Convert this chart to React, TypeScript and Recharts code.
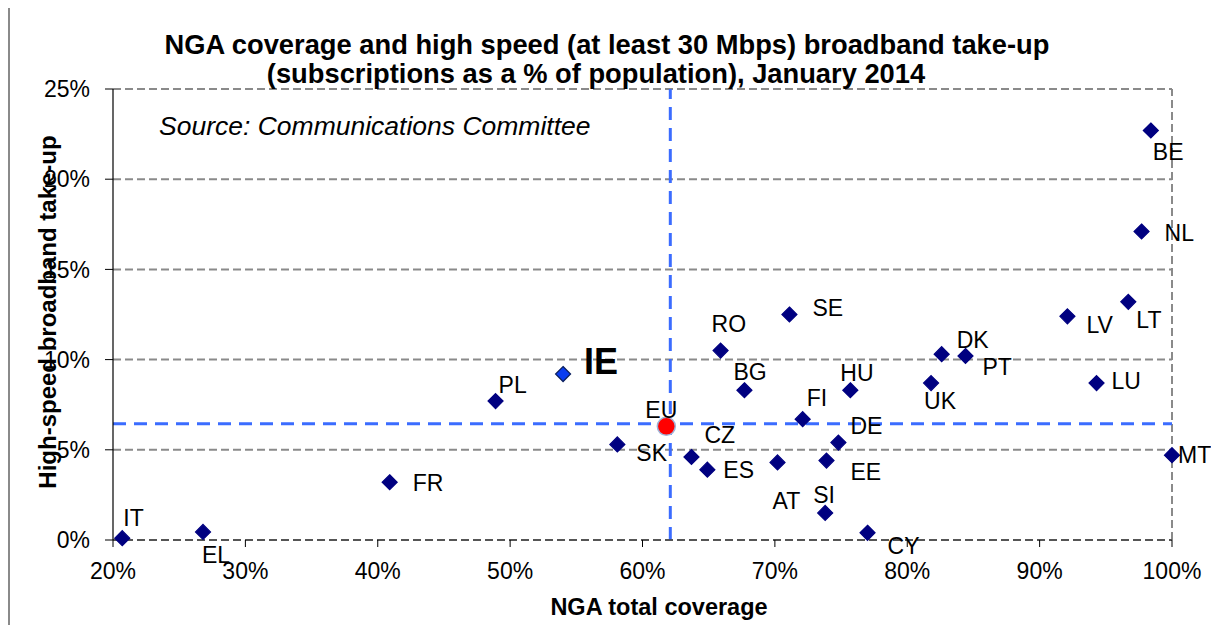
import React from 'react';
import { ScatterChart, Scatter, XAxis, YAxis, CartesianGrid, ReferenceLine } from 'recharts';

const FONT = '"Liberation Sans", Arial, Helvetica, sans-serif';

// ---- Data ----
const countries = ['IT', 'EL', 'FR', 'PL', 'SK', 'RO', 'BG', 'CZ', 'ES', 'AT', 'SE', 'FI', 'HU', 'DE', 'EE', 'SI', 'CY', 'UK', 'DK', 'PT', 'LV', 'LT', 'LU', 'MT', 'BE', 'NL'];
const coverage = [20.7, 26.8, 40.9, 48.9, 58.1, 65.9, 67.7, 63.7, 64.9, 70.2, 71.1, 72.1, 75.7, 74.8, 73.9, 73.8, 77.0, 81.8, 82.6, 84.4, 92.1, 96.7, 94.3, 100.0, 98.4, 97.7];
const takeup = [0.1, 0.45, 3.2, 7.7, 5.3, 10.5, 8.3, 4.6, 3.9, 4.3, 12.5, 6.7, 8.3, 5.4, 4.4, 1.5, 0.4, 8.7, 10.3, 10.2, 12.4, 13.2, 8.7, 4.7, 22.7, 17.1];

const ieCountry = ['IE'];
const ieCoverage = [54.0];
const ieTakeup = [9.2];

const euCountry = ['EU'];
const euCoverage = [61.8];
const euTakeup = [6.3];

const euAvgCoverage = 62.1;
const euAvgTakeup = 6.45;

const xTicks = [20, 30, 40, 50, 60, 70, 80, 90, 100];
const yTicks = [0, 5, 10, 15, 20, 25];

const titleLines = [
  'NGA coverage and high speed (at least 30 Mbps) broadband take-up',
  '(subscriptions as a % of population), January 2014',
];
const sourceText = 'Source: Communications Committee';
const xTitle = 'NGA total coverage';
const yTitle = 'High-speed broadband take-up';
const cutText = '(subscriptions as a % of population), January 2014';

// ---- Layout: label offsets (start x, cap-centre y) relative to each marker ----
const labelOffsets: Record<string, [number, number]> = {
  IT: [1, -20], EL: [-1, 23], FR: [23, 0], PL: [3, -16], SK: [19, 8], RO: [-9, -27],
  BG: [-11, -19], CZ: [13, -22], ES: [16, 0], AT: [-5, 38], SE: [23, -7], FI: [4, -21],
  HU: [-10, -18], DE: [12, -17], EE: [24, 11], SI: [-12, -18], CY: [20, 13], UK: [-7, 18],
  DK: [15, -14], PT: [17, 11], LV: [19, 8], LT: [8, 18], LU: [15, -2], MT: [6, 0],
  BE: [2, 21], NL: [23, 1], IE: [21, -13], EU: [-21, -17],
};

const mk = (names: string[], xs: number[], ys: number[]) =>
  names.map((name, i) => ({ name, x: xs[i], y: ys[i] }));

const mainData = mk(countries, coverage, takeup);
const ieData = mk(ieCountry, ieCoverage, ieTakeup);
const euData = mk(euCountry, euCoverage, euTakeup);

const LABEL_SIZE = 23;

const pointLabel = (name: string, cx: number, cy: number, size: number, bold: boolean) => {
  const off = labelOffsets[name] || [10, 0];
  return (
    <text
      x={cx + off[0]}
      y={cy + off[1] + size * 0.358}
      fontSize={size}
      fontFamily={FONT}
      fontWeight={bold ? 'bold' : 'normal'}
      fill="#000"
    >
      {name}
    </text>
  );
};

const diamondShape = (fill: string, stroke: string, labelSize: number, bold: boolean) => (props: any) => {
  const { cx, cy, payload } = props;
  if (cx == null || cy == null) return <g />;
  const h = 7.5;
  const pts = `${cx},${cy - h} ${cx + h},${cy} ${cx},${cy + h} ${cx - h},${cy}`;
  return (
    <g>
      <polygon points={pts} fill={fill} stroke={stroke} strokeWidth={1.2} />
      {pointLabel(payload.name, cx, cy, labelSize, bold)}
    </g>
  );
};

const circleShape = (props: any) => {
  const { cx, cy, payload } = props;
  if (cx == null || cy == null) return <g />;
  return (
    <g>
      <circle cx={cx} cy={cy} r={9} fill="#ff0000" stroke="#9fb4d8" strokeWidth={1.5} />
      {pointLabel(payload.name, cx, cy, LABEL_SIZE, false)}
    </g>
  );
};

export default function App() {
  return (
    <div style={{ position: 'relative', width: 1211, height: 617 }}>
      <ScatterChart width={1211} height={617} margin={{ top: 81, right: 47, bottom: 25, left: 0 }}>
        <CartesianGrid vertical={false} stroke="#8a8a8a" strokeWidth={2} strokeDasharray="8 4" />
        <XAxis
          type="number"
          dataKey="x"
          domain={[20, 100]}
          ticks={xTicks}
          tickFormatter={(v: number) => `${v}%`}
          height={60}
          tickSize={7}
          tickMargin={16}
          axisLine={{ stroke: '#444', strokeWidth: 1.5, strokeDasharray: '8 4' }}
          tickLine={{ stroke: '#000' }}
          tick={{ fontSize: 23, fill: '#000', fontFamily: FONT }}
        />
        <YAxis
          type="number"
          dataKey="y"
          domain={[0, 25]}
          ticks={yTicks}
          tickFormatter={(v: number) => `${v}%`}
          width={105}
          tickSize={8}
          tickMargin={15}
          axisLine={{ stroke: '#000', strokeWidth: 1.2 }}
          tickLine={{ stroke: '#000' }}
          tick={{ fontSize: 23, fill: '#000', fontFamily: FONT }}
        />
        <ReferenceLine x={100} stroke="#8a8a8a" strokeWidth={2} strokeDasharray="8 4" />
        <Scatter data={euData} isAnimationActive={false} shape={circleShape} />
        <Scatter data={mainData} isAnimationActive={false} shape={diamondShape('#000080', '#000080', LABEL_SIZE, false)} />
        <Scatter data={ieData} isAnimationActive={false} shape={diamondShape('#0a3df0', '#0b1f5c', 36, true)} />
        <ReferenceLine x={euAvgCoverage} stroke="#3b6cff" strokeWidth={3} strokeDasharray="13 8" />
        <ReferenceLine y={euAvgTakeup} stroke="#3b6cff" strokeWidth={3} strokeDasharray="13 8" />
      </ScatterChart>
      <svg
        width={1219}
        height={625}
        style={{ position: 'absolute', left: -8, top: -8, pointerEvents: 'none', overflow: 'visible' }}
      >
        <line x1={9} y1={6} x2={1219} y2={6} stroke="#8a8a8a" strokeWidth={2} />
        <line x1={9} y1={5} x2={9} y2={625} stroke="#8a8a8a" strokeWidth={2} />
        <text x={178} y={-2} fontSize={24} fontStyle="italic" fontFamily={FONT} fill="#000">{cutText}</text>
        <text x={607} y={54} textAnchor="middle" fontSize={27.3} fontWeight="bold" fontFamily={FONT} fill="#000">{titleLines[0]}</text>
        <text x={596} y={83} textAnchor="middle" fontSize={27.3} fontWeight="bold" fontFamily={FONT} fill="#000">{titleLines[1]}</text>
        <text x={159} y={135} fontSize={26.5} fontStyle="italic" fontFamily={FONT} fill="#000">{sourceText}</text>
        <text x={659} y={615} textAnchor="middle" fontSize={23.5} fontWeight="bold" fontFamily={FONT} fill="#000">{xTitle}</text>
        <text
          x={56}
          y={312}
          textAnchor="middle"
          fontSize={24}
          fontWeight="bold"
          fontFamily={FONT}
          fill="#000"
          transform="rotate(-90, 56, 312)"
        >
          {yTitle}
        </text>
      </svg>
    </div>
  );
}
